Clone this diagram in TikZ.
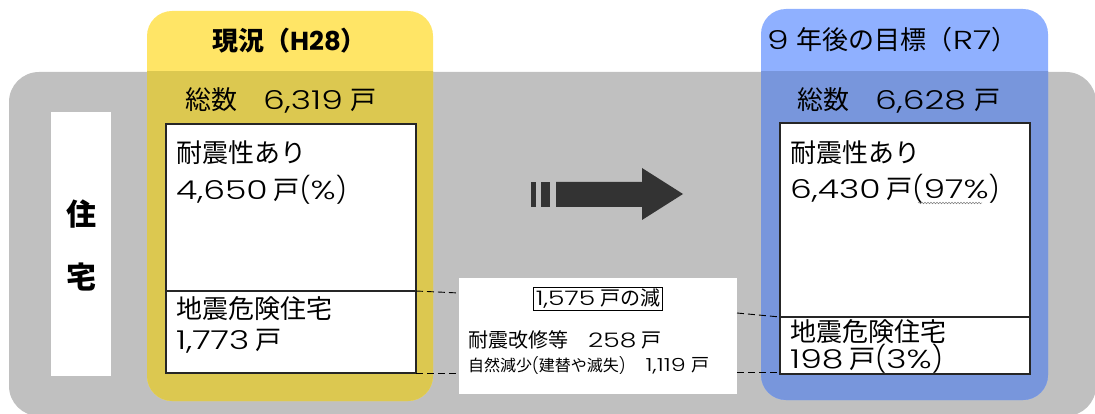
\documentclass[tikz,border=0pt]{standalone}
\usepackage{fontspec}
\setmainfont{Noto Sans CJK JP}
\newfontfamily\lat{Poppins}
\newfontfamily\latw{Poppins}[UprightFont=* Light, FakeStretch=1.33]
\newfontfamily\latp{Poppins}[UprightFont=* Light]
\newcommand\nm[1]{{\latw #1}}
\newcommand\pp[1]{{\latp #1}}
\usetikzlibrary{decorations.pathmorphing}
\definecolor{bggray}{HTML}{C0C0C0}
\definecolor{ylight}{HTML}{FFE566}
\definecolor{ydark}{HTML}{DCC850}
\definecolor{blight}{HTML}{8FB0FF}
\definecolor{bdark}{HTML}{7896DC}
\definecolor{arrowc}{HTML}{333333}
\tikzset{
  panel/.style={anchor=north west, inner sep=0pt, outer sep=0pt, draw=none},
  boxw/.style={anchor=north west, inner sep=0pt, outer sep=0pt, draw=black!85, line width=1.2pt, fill=white},
  txt/.style={anchor=west, inner sep=0pt, font=\fontsize{26}{30}\selectfont},
  ttl/.style={anchor=west, inner sep=0pt, font=\fontsize{26}{30}\selectfont},
  midtxt/.style={anchor=west, inner sep=0pt, font=\fontsize{20}{24}\selectfont},
  smalltxt/.style={anchor=west, inner sep=0pt, font=\fontsize{16}{20}\selectfont},
  conn/.style={dash pattern=on 7pt off 4pt, line width=0.9pt, draw=black},
}
\begin{document}
\begin{tikzpicture}[x=1pt,y=-1pt]
\useasboundingbox (0,0) rectangle (1095,414);
% grey background
\node[panel, fill=bggray, rounded corners=30pt, minimum width=1087pt, minimum height=344pt] (bg) at (9,72) {};
% yellow and blue panels (two tones)
\node[panel, fill=ylight, rounded corners=25pt, minimum width=286pt, minimum height=390pt] (yel) at (147,11) {};
\node[panel, fill=blight, rounded corners=25pt, minimum width=287pt, minimum height=391pt] (blu) at (761,9) {};
\begin{scope}
  \clip (0,72) rectangle (1095,414);
  \node[panel, fill=ydark, rounded corners=25pt, minimum width=286pt, minimum height=390pt] (yeld) at (147,11) {};
  \node[panel, fill=bdark, rounded corners=25pt, minimum width=287pt, minimum height=391pt] (blud) at (761,9) {};
\end{scope}
% label box
\node[panel, fill=white, minimum width=60pt, minimum height=264pt] (lab) at (51,112) {};
\node[anchor=center, inner sep=0pt, font=\fontsize{30}{34}\selectfont\bfseries] (lab1) at (81,214) {住};
\node[anchor=center, inner sep=0pt, font=\fontsize{30}{34}\selectfont\bfseries] (lab2) at (81,277) {宅};
% titles
\node[ttl, font=\fontsize{26}{30}\selectfont\bfseries] (t1) at (212,41) {現況（{\lat H28}）};
\node[ttl] (t2) at (767,40) {\nm{9}\hspace{8pt}年後の目標（\nm{R7}）};
\node[txt] (n1) at (185,100) {総数\hspace{26pt}\nm{6,319}\hspace{8pt}戸};
\node[txt] (n2) at (797,100) {総数\hspace{26pt}\nm{6,628}\hspace{8pt}戸};
% boxes
\node[boxw, minimum width=250pt, minimum height=167pt] (lt) at (166,124) {};
\node[boxw, minimum width=250pt, minimum height=82pt] (lb) at (166,291) {};
\node[boxw, minimum width=250pt, minimum height=194pt] (rt) at (780,123) {};
\node[boxw, minimum width=250pt, minimum height=57pt] (rb) at (780,317) {};
\node[panel, fill=white, minimum width=278pt, minimum height=116pt] (mid) at (459,278) {};
% box texts
\node[txt] (a1) at (176,153) {耐震性あり};
\node[txt] (a2) at (176,190) {\nm{4,650}\hspace{6pt}戸\pp{(}\nm{\%}\pp{)}};
\node[txt] (a3) at (176,309) {地震危険住宅};
\node[txt] (a4) at (176,341) {\nm{1,773}\hspace{6pt}戸};
\node[txt] (b1) at (790,153) {耐震性あり};
\node[txt] (b2) at (790,189) {\nm{6,430}\hspace{6pt}戸\pp{(}\nm{97\%}\pp{)}};
\node[txt] (b3) at (790,332) {地震危険住宅};
\node[txt] (b4) at (790,359) {\nm{198}\hspace{6pt}戸\pp{(}\nm{3\%}\pp{)}};
\draw[gray, line width=0.5pt, decorate, decoration={snake, segment length=3pt, amplitude=0.8pt}] (918,203) -- (982,203);
% middle texts
\node[draw=black, line width=1pt, inner sep=2pt, font=\fontsize{20}{24}\selectfont] (m0) at (598,299) {\nm{1,575}\hspace{5pt}戸の減};
\node[midtxt] (m1) at (468,340) {耐震改修等\hspace{20pt}\nm{258}\hspace{5pt}戸};
\node[smalltxt] (m2) at (468,366) {自然減少\pp{(}建替や滅失\pp{)}\hspace{20pt}{\fontsize{18}{20}\selectfont\nm{1,119}}\hspace{6pt}{\fontsize{18}{20}\selectfont 戸}};
% arrow
\fill[arrowc] (531,182) rectangle (536,207);
\fill[arrowc] (541,182) rectangle (550,207);
\fill[arrowc] (556,182) -- (642,182) -- (642,168) -- (683,194) -- (642,220) -- (642,207) -- (556,207) -- cycle;
% dashed connectors
\draw[conn] (lt.south east) -- ([yshift=-2pt]lt.south east -| mid.west);
\draw[conn] (lb.south east) -- (lb.south east -| mid.west);
\draw[conn] ([yshift=4pt]rt.south west -| mid.east) -- (rt.south west);
\draw[conn] ([yshift=2pt]rb.south west -| mid.east) -- ([yshift=2pt]rb.south west);
\end{tikzpicture}
\end{document}
